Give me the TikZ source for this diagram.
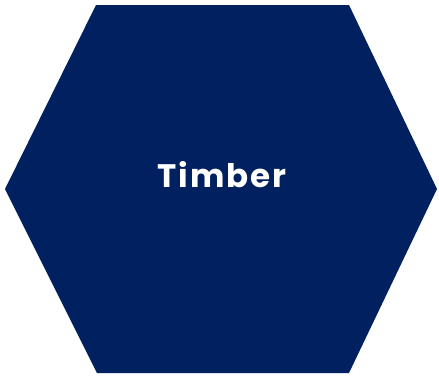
\documentclass[tikz,border=0pt]{standalone}
\usepackage{fontspec}
\setmainfont{Poppins}
\definecolor{navy}{HTML}{002060}
\begin{document}
\begin{tikzpicture}[x=1pt,y=-1pt,
  hexstyle/.style={fill=navy,draw=none},
  labelstyle/.style={text=white,font=\fontsize{32.5}{35}\selectfont\bfseries\addfontfeature{LetterSpace=6},inner sep=0pt}]
\useasboundingbox (0,0) rectangle (439,376);
\path[hexstyle] (96,5) -- (349,5) -- (437,189) -- (349,373) -- (97,373) -- (5,189) -- cycle;
\node[labelstyle,anchor=base] (label) at (222,187) {Timber};
\end{tikzpicture}
\end{document}
